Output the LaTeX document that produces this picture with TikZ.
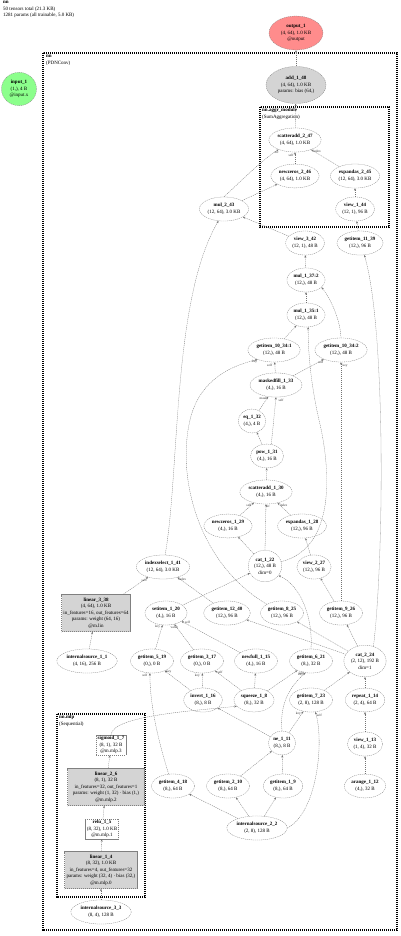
\documentclass[tikz,border=0pt]{standalone}
\usepackage{fontspec}
\setmainfont{Liberation Serif}
\usetikzlibrary{arrows.meta,shapes.geometric}

\newcommand{\nfont}{\fontsize{5}{6.5}\selectfont}
\newcommand{\efont}{\fontsize{3.4}{3.7}\selectfont}
\newcommand{\nm}[2]{\textbf{#1}\\#2}
\newcommand{\cl}[1]{\makebox[0pt]{#1}}

\begin{document}
\begin{tikzpicture}[x=1pt, y=-1pt, >=Stealth,
  op/.style={ellipse, draw=black!50, line width=0.3pt, dash pattern=on 1.2pt off 0.8pt,
    inner xsep=1pt, inner ysep=3pt, align=center, font=\nfont},
  modbox/.style={rectangle, draw=black!50, line width=0.3pt, dash pattern=on 1.2pt off 0.8pt,
    fill=black!17, inner sep=0pt, align=center, font=\nfont},
  actbox/.style={rectangle, draw=black!50, line width=0.3pt, dash pattern=on 1.2pt off 0.8pt,
    fill=white, inner sep=1.4pt, align=center, font=\nfont},
  cluster/.style={draw=black, line width=1.1pt, dash pattern=on 1.2pt off 0.8pt},
  clab/.style={anchor=north west, align=left, inner sep=0pt, font=\nfont},
  edge/.style={-{Stealth[length=2.4pt,width=2pt]}, draw=black!55, line width=0.3pt,
    dash pattern=on 1.2pt off 0.8pt},
  elab/.style={at end, font=\efont, inner sep=0pt, text=black!80}
]
\useasboundingbox (0,0) rectangle (400,936);

% capcalera
\node[clab] (title) at (3,1) {\textbf{nn}\\50 tensors total (21.3 KB)\\1281 params (all trainable, 5.0 KB)};

% clusters
\draw[cluster] (43,53) rectangle (397,930);
\node[clab] (pdnlab) at (46,55) {\textbf{nn}\\(PDNConv)};
\draw[cluster] (260,107) rectangle (389,227);
\node[clab] (aggrlab) at (262,108) {\textbf{nn.aggr\_module}\\(SumAggregation)};
\draw[cluster] (57,714) rectangle (145,897);
\node[clab] (mlplab) at (59,715) {\textbf{nn.mlp}\\(Sequential)};

% entrada / sortida
\node[op, fill=green!45!white, minimum width=35pt, minimum height=33pt] (input_1) at (19,89) {\nm{input\_1}{(1,), 4 B\\@input.x}};
\node[op, fill=red!45!white, minimum width=54pt, minimum height=34pt] (output_1) at (296,33) {\nm{output\_1}{(4, 64), 1.0 KB\\@output}};
\node[op, fill=black!17, minimum width=60pt, minimum height=37pt] (add_1_48) at (296,85) {\nm{add\_1\_48}{(4, 64), 1.0 KB\\params: bias (64,)}};

% agregacio
\node[op] (scatteradd_2_47) at (295,140) {\nm{scatteradd\_2\_47}{(4, 64), 1.0 KB}};
\node[op] (newzeros_2_46) at (295,176) {\nm{newzeros\_2\_46}{(4, 64), 1.0 KB}};
\node[op] (expandas_2_45) at (355,176) {\nm{expandas\_2\_45}{(12, 64), 3.0 KB}};
\node[op] (view_1_44) at (355,209) {\nm{view\_1\_44}{(12, 1), 96 B}};

% missatge
\node[op] (mul_2_43) at (224,209) {\nm{mul\_2\_43}{(12, 64), 3.0 KB}};
\node[op] (view_3_42) at (305,243) {\nm{view\_3\_42}{(12, 1), 48 B}};
\node[op] (getitem_11_39) at (360,243) {\nm{getitem\_11\_39}{(12,), 96 B}};
\node[op] (mul_1_37) at (306,280) {\nm{mul\_1\_37:2}{(12,), 48 B}};
\node[op] (mul_1_35) at (306,315) {\nm{mul\_1\_35:1}{(12,), 48 B}};
\node[op] (getitem_10_34a) at (274,350) {\nm{getitem\_10\_34:1}{(12,), 48 B}};
\node[op] (getitem_10_34b) at (341,350) {\nm{getitem\_10\_34:2}{(12,), 48 B}};

% normalitzacio
\node[op] (maskedfill_1_33) at (276,385) {\nm{maskedfill\_1\_33}{(4,), 16 B}};
\node[op] (eq_1_32) at (252,421) {\nm{eq\_1\_32}{(4,), 4 B}};
\node[op] (pow_1_31) at (267,456) {\nm{pow\_1\_31}{(4,), 16 B}};
\node[op] (scatteradd_1_30) at (266,492) {\nm{scatteradd\_1\_30}{(4,), 16 B}};
\node[op] (newzeros_1_29) at (228,526) {\nm{newzeros\_1\_29}{(4,), 16 B}};
\node[op] (expandas_1_28) at (302,526) {\nm{expandas\_1\_28}{(12,), 96 B}};
\node[op] (indexselect_1_41) at (163,567) {\nm{indexselect\_1\_41}{(12, 64), 3.0 KB}};
\node[op] (cat_1_22) at (265,566) {\nm{cat\_1\_22}{(12,), 48 B\\dim=0}};
\node[op] (view_2_27) at (314,567) {\nm{view\_2\_27}{(12,), 96 B}};

\node[modbox, minimum width=69pt, minimum height=37pt] (linear_3_38) at (96,613)
  {\cl{\textbf{linear\_3\_38}}\\\cl{(4, 64), 1.0 KB}\\\cl{in\_features=16, out\_features=64}\\\cl{params: weight (64, 16)}\\\cl{@m.lin}};
\node[op] (setitem_1_20) at (166,613) {\nm{setitem\_1\_20}{(4,), 16 B}};
\node[op] (getitem_12_40) at (227,613) {\nm{getitem\_12\_40}{(12,), 96 B}};
\node[op] (getitem_8_25) at (282,613) {\nm{getitem\_8\_25}{(12,), 96 B}};
\node[op] (getitem_9_26) at (341,613) {\nm{getitem\_9\_26}{(12,), 96 B}};

% bucles propis
\node[op] (internalsource_1_1) at (87,661) {\nm{internalsource\_1\_1}{(4, 16), 256 B}};
\node[op] (getitem_5_19) at (152,661) {\nm{getitem\_5\_19}{(0,), 0 B}};
\node[op] (getitem_3_17) at (202,661) {\nm{getitem\_3\_17}{(0,), 0 B}};
\node[op] (newfull_1_15) at (256,661) {\nm{newfull\_1\_15}{(4,), 16 B}};
\node[op] (getitem_6_21) at (311,661) {\nm{getitem\_6\_21}{(8,), 32 B}};
\node[op] (cat_2_24) at (365,661) {\nm{cat\_2\_24}{(2, 12), 192 B\\dim=1}};
\node[op] (invert_1_16) at (203,700) {\nm{invert\_1\_16}{(8,), 8 B}};
\node[op] (squeeze_1_8) at (254,700) {\nm{squeeze\_1\_8}{(8,), 32 B}};
\node[op] (getitem_7_23) at (311,700) {\nm{getitem\_7\_23}{(2, 8), 128 B}};
\node[op] (repeat_1_14) at (365,700) {\nm{repeat\_1\_14}{(2, 4), 64 B}};
\node[op] (ne_1_11) at (282,743) {\nm{ne\_1\_11}{(8,), 8 B}};
\node[op] (view_1_13) at (365,744) {\nm{view\_1\_13}{(1, 4), 32 B}};
\node[op] (getitem_4_18) at (173,786) {\nm{getitem\_4\_18}{(8,), 64 B}};
\node[op] (getitem_2_10) at (228,786) {\nm{getitem\_2\_10}{(8,), 64 B}};
\node[op] (getitem_1_9) at (283,786) {\nm{getitem\_1\_9}{(8,), 64 B}};
\node[op] (arange_1_12) at (365,786) {\nm{arange\_1\_12}{(4,), 32 B}};
\node[op] (internalsource_2_2) at (257,828) {\nm{internalsource\_2\_2}{(2, 8), 128 B}};

% mlp
\node[actbox] (sigmoid_1_7) at (111,745) {\nm{sigmoid\_1\_7}{(8, 1), 32 B\\@m.mlp.3}};
\node[modbox, minimum width=77pt, minimum height=37pt] (linear_2_6) at (106,787)
  {\cl{\textbf{linear\_2\_6}}\\\cl{(8, 1), 32 B}\\\cl{in\_features=32, out\_features=1}\\\cl{params: weight (1, 32) · bias (1,)}\\\cl{@m.mlp.2}};
\node[actbox] (relu_1_5) at (102,829) {\nm{relu\_1\_5}{(8, 32), 1.0 KB\\@m.mlp.1}};
\node[modbox, minimum width=73pt, minimum height=37pt] (linear_1_4) at (101,870)
  {\cl{\textbf{linear\_1\_4}}\\\cl{(8, 32), 1.0 KB}\\\cl{in\_features=4, out\_features=32}\\\cl{params: weight (32, 4) · bias (32,)}\\\cl{@m.mlp.0}};
\node[op] (internalsource_3_3) at (101,912) {\nm{internalsource\_3\_3}{(8, 4), 128 B}};

% arestes mlp
\draw[edge] (internalsource_3_3) -- (linear_1_4);
\draw[edge] (linear_1_4) -- (relu_1_5);
\draw[edge] (relu_1_5) -- (linear_2_6);
\draw[edge] (linear_2_6) -- (sigmoid_1_7);
\draw[edge] (sigmoid_1_7.north) .. controls (113,716) and (190,711) .. (squeeze_1_8.200);

% arestes bucles
\draw[edge] (internalsource_2_2) -- (getitem_4_18);
\draw[edge] (internalsource_2_2) -- (getitem_2_10);
\draw[edge] (internalsource_2_2) -- (getitem_1_9);
\draw[edge] (internalsource_2_2.east) .. controls (318,812) and (324,740) .. (getitem_7_23.-70)
  node[elab, xshift=4pt, yshift=-3pt] {self};
\draw[edge] (getitem_2_10) -- (ne_1_11);
\draw[edge] (getitem_1_9) -- (ne_1_11);
\draw[edge] (arange_1_12) -- (view_1_13);
\draw[edge] (view_1_13) -- (repeat_1_14);
\draw[edge] (ne_1_11) -- (invert_1_16);
\draw[edge] (ne_1_11.north) .. controls (280,708) and (286,690) .. (getitem_6_21.-115)
  node[elab, xshift=-5pt, yshift=-2pt] {key};
\draw[edge] (ne_1_11) -- (getitem_7_23)
  node[elab, xshift=-5pt, yshift=-2pt] {key};
\draw[edge] (squeeze_1_8) -- (newfull_1_15);
\draw[edge] (squeeze_1_8) -- (getitem_3_17)
  node[elab, xshift=5pt, yshift=-2pt] {self};
\draw[edge] (squeeze_1_8) -- (getitem_6_21)
  node[elab, xshift=4pt, yshift=-3pt] {self};
\draw[edge] (invert_1_16) -- (getitem_3_17)
  node[elab, xshift=-5pt, yshift=-2pt] {key};
\draw[edge] (invert_1_16) -- (getitem_5_19)
  node[elab, xshift=4pt, yshift=-1pt] {key};
\draw[edge] (getitem_4_18.110) .. controls (158,740) and (150,705) .. (getitem_5_19.-100)
  node[elab, xshift=-5pt, yshift=-2pt] {self};
\draw[edge] (getitem_5_19) -- (setitem_1_20)
  node[elab, xshift=-5pt, yshift=-2pt] {key};
\draw[edge] (getitem_3_17) -- (setitem_1_20)
  node[elab, xshift=0pt, yshift=-3pt] {value};
\draw[edge] (newfull_1_15) -- (setitem_1_20)
  node[elab, xshift=6pt, yshift=-1pt] {self};
\draw[edge] (getitem_7_23) -- (cat_2_24);
\draw[edge] (repeat_1_14) -- (cat_2_24);

% arestes gcn_norm
\draw[edge] (setitem_1_20) -- (cat_1_22);
\draw[edge] (getitem_6_21.north) .. controls (313,620) and (302,586) .. (cat_1_22.-35);
\draw[edge] (cat_2_24) -- (getitem_12_40);
\draw[edge] (cat_2_24) -- (getitem_8_25);
\draw[edge] (cat_2_24) -- (getitem_9_26);
\draw[edge] (cat_2_24.60) .. controls (384,560) and (386,330) .. (getitem_11_39.-70);
\draw[edge] (getitem_9_26) -- (view_2_27);
\draw[edge] (getitem_9_26.north) -- (getitem_10_34b.south)
  node[elab, xshift=4pt, yshift=-3pt] {key};
\draw[edge] (getitem_8_25.150) .. controls (200,565) and (176,480) .. (190,420)
  .. controls (198,386) and (222,368) .. (getitem_10_34a.-150)
  node[elab, xshift=-3pt, yshift=-2pt] {key};
\draw[edge] (view_2_27) -- (expandas_1_28);
\draw[edge] (cat_1_22) -- (newzeros_1_29);
\draw[edge] (cat_1_22.north) -- (scatteradd_1_30.south)
  node[elab, xshift=2pt, yshift=-3pt] {src};
\draw[edge] (cat_1_22.15) .. controls (336,548) and (331,470) .. (319,420)
  .. controls (311,385) and (308,352) .. (mul_1_35.-80);
\draw[edge] (newzeros_1_29) -- (scatteradd_1_30)
  node[elab, xshift=-5pt, yshift=-2pt] {self};
\draw[edge] (expandas_1_28) -- (scatteradd_1_30)
  node[elab, xshift=6pt, yshift=-2pt] {index};
\draw[edge] (scatteradd_1_30) -- (pow_1_31);
\draw[edge] (pow_1_31) -- (eq_1_32);
\draw[edge] (pow_1_31.70) -- (maskedfill_1_33.south)
  node[elab, xshift=5pt, yshift=-3pt] {self};
\draw[edge] (eq_1_32) -- (maskedfill_1_33)
  node[elab, xshift=-5pt, yshift=-2pt] {mask};
\draw[edge] (maskedfill_1_33) -- (getitem_10_34a)
  node[elab, xshift=-5pt, yshift=-3pt] {self};
\draw[edge] (maskedfill_1_33) -- (getitem_10_34b)
  node[elab, xshift=-3pt, yshift=-3pt] {self};
\draw[edge] (getitem_10_34a) -- (mul_1_35);
\draw[edge] (getitem_10_34b.north) .. controls (340,318) and (330,298) .. (mul_1_37.-25);
\draw[edge] (mul_1_35) -- (mul_1_37);
\draw[edge] (mul_1_37) -- (view_3_42);

% arestes propagacio
\draw[edge] (internalsource_1_1) -- (linear_3_38);
\draw[edge] (linear_3_38) -- (indexselect_1_41)
  node[elab, xshift=-4pt, yshift=-3pt] {self};
\draw[edge] (getitem_12_40) -- (indexselect_1_41)
  node[elab, xshift=5pt, yshift=-2pt] {index};
\draw[edge] (indexselect_1_41.80) .. controls (180,470) and (172,300) .. (mul_2_43.-115);
\draw[edge] (view_3_42) -- (mul_2_43);
\draw[edge] (getitem_11_39) -- (view_1_44);
\draw[edge] (view_1_44) -- (expandas_2_45);
\draw[edge] (mul_2_43) -- (newzeros_2_46);
\draw[edge] (mul_2_43.north) .. controls (240,182) and (262,160) .. (scatteradd_2_47.-150)
  node[elab, xshift=-2pt, yshift=-3pt] {src};
\draw[edge] (newzeros_2_46) -- (scatteradd_2_47)
  node[elab, xshift=-4pt, yshift=-3pt] {self};
\draw[edge] (expandas_2_45) -- (scatteradd_2_47)
  node[elab, xshift=6pt, yshift=-2pt] {index};
\draw[edge] (scatteradd_2_47) -- (add_1_48);
\draw[edge] (add_1_48) -- (output_1);

\end{tikzpicture}
\end{document}
